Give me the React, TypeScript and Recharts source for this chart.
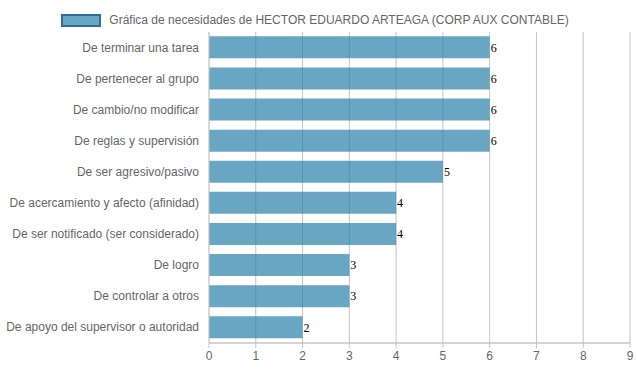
import { BarChart, Bar, XAxis, YAxis, CartesianGrid, Legend, LabelList, Customized } from "recharts"

const categories = [
  "De terminar una tarea",
  "De pertenecer al grupo",
  "De cambio/no modificar",
  "De reglas y supervisión",
  "De ser agresivo/pasivo",
  "De acercamiento y afecto (afinidad)",
  "De ser notificado (ser considerado)",
  "De logro",
  "De controlar a otros",
  "De apoyo del supervisor o autoridad",
]
const values = [6, 6, 6, 6, 5, 4, 4, 3, 3, 2]
const xTicks = [0, 1, 2, 3, 4, 5, 6, 7, 8, 9]
const seriesName = "Gráfica de necesidades de HECTOR EDUARDO ARTEAGA (CORP AUX CONTABLE)"

const data = categories.map((name, i) => ({ name, value: values[i] }))

const FONT = "Arial, 'Liberation Sans', sans-serif"

const LegendBox = () => (
  <div style={{ height: 24, display: "flex", justifyContent: "center", alignItems: "center", fontFamily: FONT, fontSize: 12, color: "#666" }}>
    <span style={{ display: "inline-block", width: 36, height: 9, background: "rgba(42,128,171,0.7)", border: "2px solid #2e6f98", marginRight: 8 }} />
    <span>{seriesName}</span>
  </div>
)

// category boundary lines with their tick stubs left of the axis
const BandLines = (props: any) => {
  const off = props.offset
  if (!off) return null
  const n = categories.length
  const step = off.height / n
  const lines = []
  for (let i = 0; i < n; i++) {
    const y = off.top + step * i
    lines.push(<line key={i} x1={off.left - 10} x2={off.left + off.width} y1={y} y2={y} stroke="#e6e6e6" strokeWidth={1} />)
  }
  return <g>{lines}</g>
}

const CatTick = (props: any) => {
  const { x, y, payload } = props
  return (
    <text x={x} y={y} dy={4} textAnchor="end" fontSize={12} fill="#666" fontFamily={FONT}>
      {payload.value}
    </text>
  )
}

export default function App() {
  return (
    <div style={{ position: "absolute", left: 0, top: 0, width: 637, height: 371, background: "white" }}>
      <BarChart
        width={637}
        height={371}
        data={data}
        layout="vertical"
        margin={{ top: 8, right: 7, bottom: 0, left: 0 }}
        barCategoryGap="14%"
      >
        <Customized component={BandLines} />
        <CartesianGrid horizontal={false} stroke="#c4c4c4" />
        <Legend verticalAlign="top" align="center" content={<LegendBox />} />
        <XAxis
          type="number"
          domain={[0, 9]}
          ticks={xTicks}
          interval={0}
          height={28}
          tick={{ fontSize: 12, fill: "#666", fontFamily: FONT }}
          tickSize={5}
          tickMargin={3}
          stroke="#aaa"
          tickLine={{ stroke: "#c4c4c4" }}
        />
        <YAxis
          type="category"
          dataKey="name"
          width={209}
          tick={<CatTick />}
          tickLine={false}
          tickSize={8}
          tickMargin={2}
          stroke="#d0d0d0"
          interval={0}
        />
        <Bar dataKey="value" name={seriesName} fill="rgb(42,128,171)" fillOpacity={0.7} isAnimationActive={false}>
          <LabelList dataKey="value" position="right" offset={1} fill="#000" fontSize={12} fontFamily="'Liberation Serif', 'DejaVu Serif', serif" />
        </Bar>
      </BarChart>
    </div>
  )
}
